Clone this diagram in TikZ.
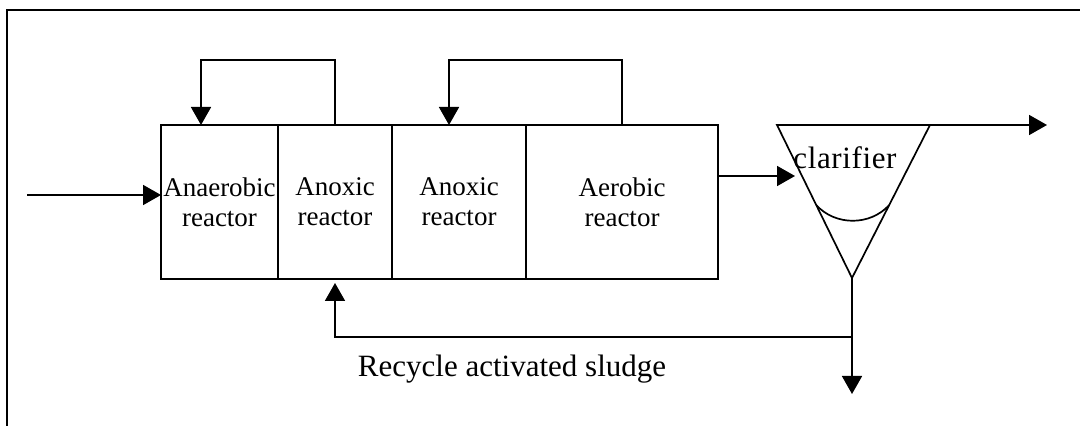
\documentclass[tikz,border=0pt]{standalone}
\usepackage{fontspec}
\setmainfont{Liberation Serif}
\usetikzlibrary{arrows.meta, positioning, calc}

\begin{document}
\begin{tikzpicture}[
    x=0.5pt, y=-0.5pt,
    reactor/.style={rectangle, draw=black, line width=0.8pt, minimum height=77pt, outer sep=0pt, inner sep=0pt, align=center, font=\fontsize{13.5}{15}\selectfont},
    arr/.style={-{Triangle[length=9pt, width=10pt]}, line width=0.85pt},
    pipe/.style={line width=0.85pt},
    node distance=0pt
]
\useasboundingbox (0,0) rectangle (1080,426);

% frame
\draw[line width=1.2pt] (7,426) -- (7,10) -- (1080,10);

\node[reactor, minimum width=58.5pt] (ana) at (219.5,202) {Anaerobic\\reactor};
\node[reactor, minimum width=57pt, right=of ana] (anox1) {Anoxic\\reactor};
\node[reactor, minimum width=67pt, right=of anox1] (anox2) {Anoxic\\reactor};
\node[reactor, minimum width=96pt, right=of anox2] (aer) {Aerobic\\reactor};

% clarifier
\coordinate (clTL) at (777,125);
\coordinate (clTR) at (930,125);
\coordinate (clB) at (852,278);
\node[font=\fontsize{15.5}{17}\selectfont\addfontfeatures{LetterSpace=2}] (clar) at (845,158) {clarifier};
\draw[pipe] (clTR) -- (clTL) -- (clB) -- cycle;
\draw[pipe] ($(clTL)!0.523!(clB)$) .. controls +(19,21) and +(-19,21) .. ($(clTR)!0.523!(clB)$);

\coordinate (in) at (27,195);
\coordinate (clin) at (795,176);
\coordinate (eff) at (1047,125);
\coordinate (was) at (852,394);
\coordinate (ras) at (852,337);

\draw[arr] (in) -- (in -| ana.west);
\draw[arr] (anox1.north) -- ++(0,-65) -| ([xshift=-9.25pt]ana.north);
\draw[arr] (aer.north) -- ++(0,-65) -| ([xshift=-5pt]anox2.north);
\draw[arr] ([yshift=13pt]aer.east) -- (clin);
\draw[arr] (clTR) -- (eff);
\draw[arr] (clB) -- (was);
\draw[arr, shorten >=2pt] (ras) -| (anox1.south);

\node[font=\fontsize{15.5}{18}\selectfont] (raslabel) at (512,369) {Recycle activated sludge};

\end{tikzpicture}
\end{document}
